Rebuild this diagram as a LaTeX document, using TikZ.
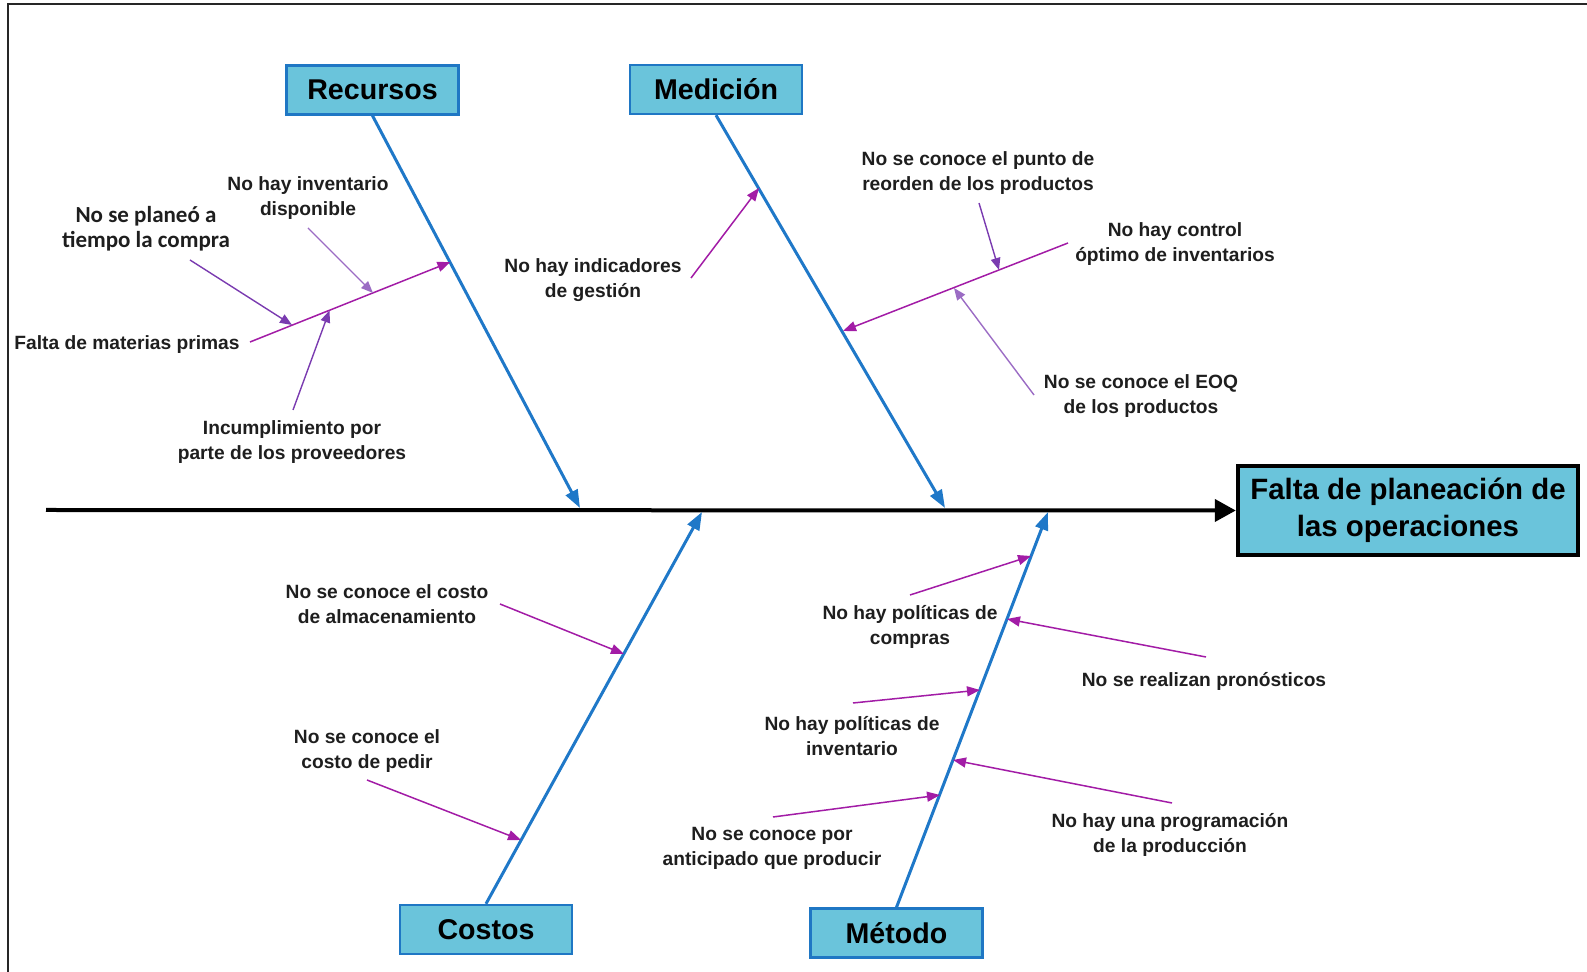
\documentclass[tikz,border=0pt]{standalone}
\usepackage{fontspec}
\setmainfont{Liberation Sans}
\newfontfamily\calibfont{Carlito}
\usetikzlibrary{arrows.meta}
\definecolor{boxfill}{HTML}{6AC4DB}
\definecolor{boxline}{HTML}{1F77C4}
\definecolor{bonecol}{HTML}{1F78C8}
\definecolor{magline}{HTML}{A21CA6}
\definecolor{purpline}{HTML}{7A3BB0}
\definecolor{inktext}{HTML}{1E1E1E}

\begin{document}
\begin{tikzpicture}[x=0.5pt,y=-0.5pt,
  catbox/.style={draw=boxline, line width=1.2pt, fill=boxfill, minimum width=86pt,
    minimum height=24.5pt, inner sep=0pt, text=black,
    font=\fontsize{14.3}{16}\selectfont\bfseries},
  effectbox/.style={draw=black, line width=2.2pt, fill=boxfill, minimum width=170pt,
    minimum height=44.5pt, inner sep=0pt, align=center, text=black,
    font=\fontsize{14.7}{18.5}\selectfont\bfseries},
  lbl/.style={align=center, inner sep=0pt, text=inktext, yshift=-1.2pt,
    font=\fontsize{9.6}{12.5}\selectfont\bfseries},
  lblc/.style={align=center, inner sep=0pt, text=inktext, yshift=-1pt,
    font=\calibfont\fontsize{11.5}{12.5}\selectfont\bfseries},
  spinearrow/.style={draw=black, line width=2pt, -{Triangle[length=10.5pt,width=11pt]}},
  bonearrow/.style={draw=bonecol, line width=1.5pt, -{Triangle[length=9pt,width=6.5pt]}},
  subarrow/.style={draw=magline, line width=0.75pt, -{Triangle[length=6.5pt,width=5pt]}},
  causearrow/.style={draw=purpline, line width=0.7pt, -{Triangle[length=6pt,width=4.8pt]}},
]
\useasboundingbox (0,0) rectangle (1587,972);

% partial frame
\draw[draw=black!85, line width=0.8pt] (8,972) -- (8,4) -- (1587,4);

% effect and spine
\node[effectbox] (effect) at (1408,510.5) {Falta de planeación de\\las operaciones};
\coordinate (tail) at (46,510);
\draw[spinearrow] (tail) -- (effect.west);

% category boxes
\node[catbox] (rec) at (372.5,90) {Recursos};
\node[catbox] (med) at (716,89.5) {Medición};
\node[catbox] (cos) at (486,929.5) {Costos};
\node[catbox] (met) at (896.5,933) {Método};

% bone tips on the spine
\coordinate (recTip) at (580,508);
\coordinate (medTip) at (945,508);
\coordinate (cosTip) at (702,512);
\coordinate (metTip) at (1048,512);

\draw[bonearrow] (rec.south) -- (recTip);
\draw[bonearrow] (med.south) -- (medTip);
\draw[bonearrow] (cos.north) -- (cosTip);
\draw[bonearrow] (met.north) -- (metTip);

% ---------------- Recursos ----------------
\node[lbl] (falta) at (127,342) {Falta de materias primas};
\coordinate (faltaS) at (250,342);
\coordinate (faltaT) at (450.4,262);
\draw[subarrow] (faltaS) -- (faltaT);

\node[lblc] (plan) at (146,227) {No se planeó a\\tiempo la compra};
\coordinate (planS) at (190,260);
\coordinate (planT) at (292,325);
\draw[causearrow] (planS) -- (planT);

\node[lbl] (inv) at (308,195.5) {No hay inventario\\disponible};
\coordinate (invS) at (308,228);
\coordinate (invT) at (373,293);
\draw[causearrow, draw=purpline!75] (invS) -- (invT);

\node[lbl] (incu) at (292,439.5) {Incumplimiento por\\parte de los proveedores};
\coordinate (incuS) at (293,410);
\coordinate (incuT) at (329.5,310.5);
\draw[causearrow] (incuS) -- (incuT);

% ---------------- Medición ----------------
\node[lbl] (indi) at (593,277.5) {No hay indicadores\\de gestión};
\coordinate (indiS) at (691,278);
\coordinate (indiT) at (759,188);
\draw[subarrow] (indiS) -- (indiT);

\node[lbl] (ctrl) at (1175,242) {No hay control\\óptimo de inventarios};
\coordinate (ctrlS) at (1068,243);
\coordinate (ctrlT) at (843,331);
\draw[subarrow] (ctrlS) -- (ctrlT);

\node[lbl] (reor) at (978,171) {No se conoce el punto de\\reorden de los productos};
\coordinate (reorS) at (979,203);
\coordinate (reorT) at (999,270);
\draw[causearrow] (reorS) -- (reorT);

\node[lbl] (eoq) at (1141,394) {No se conoce el EOQ\\de los productos};
\coordinate (eoqS) at (1034,395);
\coordinate (eoqT) at (954,288);
\draw[causearrow, draw=purpline!75] (eoqS) -- (eoqT);

% ---------------- Costos ----------------
\node[lbl] (alm) at (387,601.5) {No se conoce el costo\\de almacenamiento};
\coordinate (almS) at (500,604);
\coordinate (almT) at (624,654);
\draw[subarrow] (almS) -- (almT);

\node[lbl] (ped) at (367,748.5) {No se conoce el\\costo de pedir};
\coordinate (pedS) at (367,780);
\coordinate (pedT) at (521,840);
\draw[subarrow] (pedS) -- (pedT);

% ---------------- Método ----------------
\node[lbl] (comp) at (910,624.5) {No hay políticas de\\compras};
\coordinate (compS) at (910,595);
\coordinate (compT) at (1031,556);
\draw[subarrow] (compS) -- (compT);

\node[lbl] (pron) at (1204,679) {No se realizan pronósticos};
\coordinate (pronS) at (1206,657);
\coordinate (pronT) at (1007,619);
\draw[subarrow] (pronS) -- (pronT);

\node[lbl] (polinv) at (852,733.5) {No hay políticas de\\inventario};
\coordinate (polinvS) at (853,703);
\coordinate (polinvT) at (980,690);
\draw[subarrow] (polinvS) -- (polinvT);

\node[lbl] (prog) at (1170,832.5) {No hay una programación\\de la producción};
\coordinate (progS) at (1172,803);
\coordinate (progT) at (953,760);
\draw[subarrow] (progS) -- (progT);

\node[lbl] (anti) at (772,846) {No se conoce por\\anticipado que producir};
\coordinate (antiS) at (773,817);
\coordinate (antiT) at (940,795);
\draw[subarrow] (antiS) -- (antiT);

\end{tikzpicture}
\end{document}
